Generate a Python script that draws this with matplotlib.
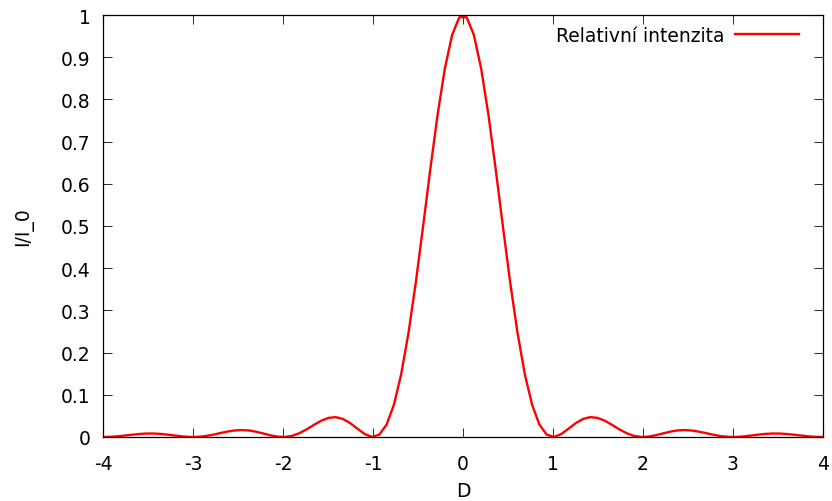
import numpy as np
import matplotlib
matplotlib.use("Agg")
import matplotlib.pyplot as plt

plt.rcParams['font.family'] = ['DejaVu Sans']

# Sample grid (gnuplot default 100 samples on [-4, 4])
x_vals = np.linspace(-4, 4, 100)

# Relative intensity values for x >= 0 (right half); the curve is symmetric
right_half = [
    0.9947, 0.9526, 0.8727, 0.7632, 0.6340, 0.4975, 0.3649, 0.2463, 0.1489, 0.0764,
    0.0296, 0.0057, 0.0001, 0.0068, 0.0195, 0.0328, 0.0427, 0.0471, 0.0453, 0.0385,
    0.0287, 0.0181, 0.0090, 0.0027, 0.0001, 0.0009, 0.0041, 0.0085, 0.0127, 0.0156,
    0.0165, 0.0153, 0.0125, 0.0088, 0.0050, 0.0020, 0.0003, 0.0001, 0.0012, 0.0032,
    0.0054, 0.0072, 0.0082, 0.0082, 0.0071, 0.0054, 0.0034, 0.0016, 0.0004, 0.0000,
]
intensity = list(reversed(right_half)) + right_half

x_ticks = [-4, -3, -2, -1, 0, 1, 2, 3, 4]
x_tick_labels = ["-4", "-3", "-2", "-1", "0", "1", "2", "3", "4"]
y_ticks = [0, 0.1, 0.2, 0.3, 0.4, 0.5, 0.6, 0.7, 0.8, 0.9, 1]
y_tick_labels = ["0", "0.1", "0.2", "0.3", "0.4", "0.5", "0.6", "0.7", "0.8", "0.9", "1"]

W, H = 832, 502
fig = plt.figure(figsize=(W / 100, H / 100), dpi=100)
left, right, top, bottom = 103, 823, 16, 438
ax = fig.add_axes([left / W, 1 - bottom / H, (right - left) / W, (bottom - top) / H])

ax.plot(x_vals, intensity, color="#ff0000", lw=1.7, label="Relativní intenzita")

FS = 13.5
ax.set_xlim(-4, 4)
ax.set_ylim(0, 1)
ax.set_xticks(x_ticks)
ax.set_xticklabels(x_tick_labels)
ax.set_yticks(y_ticks)
ax.set_yticklabels(y_tick_labels)
ax.tick_params(direction="in", length=6.5, width=0.75, top=True, right=True,
               labelsize=FS, pad=9, color="#333333")
ax.tick_params(axis="x", pad=12)
for s in ax.spines.values():
    s.set_linewidth(0.9)
    s.set_color("black")

ax.set_xlabel("D", fontsize=FS, labelpad=6)
ax.set_ylabel("I/I_0", fontsize=FS, labelpad=20)

leg = ax.legend(loc="upper right", frameon=False, markerfirst=False, fontsize=FS,
                handlelength=3.4, handletextpad=0.6, borderaxespad=0.3,
                bbox_to_anchor=(0.985, 1.006))

fig.savefig("out.png", dpi=100)
